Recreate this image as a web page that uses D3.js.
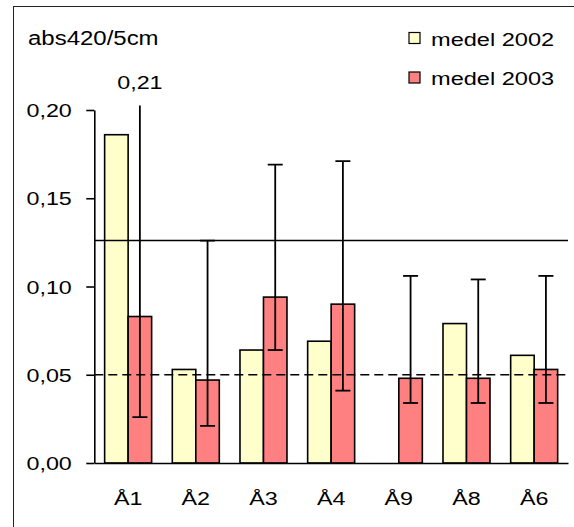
<!DOCTYPE html>
<html>
<head>
<meta charset="utf-8">
<script src="https://cdn.jsdelivr.net/npm/d3@7/dist/d3.min.js"></script>
<style>
  html, body { margin: 0; padding: 0; background: #fff; }
  svg { display: block; }
  text { font-family: "Liberation Sans", Arial, Helvetica, sans-serif; fill: #000; }
</style>
</head>
<body>
<svg id="chart" width="574" height="527"></svg>
<script>
// Sampling sites
const categories = ["Å1", "Å2", "Å3", "Å4", "Å9", "Å8", "Å6"];
// Series names
const seriesNames = ["medel 2002", "medel 2003"];
// Mean absorbance per site (null = no value)
const medel2002 = [0.186, 0.053, 0.064, 0.069, null, 0.079, 0.061];
const medel2003 = [0.083, 0.047, 0.094, 0.090, 0.048, 0.048, 0.053];
// Error bar extents for 2003 (min / max)
const min2003 = [0.026, 0.021, 0.064, 0.041, 0.034, 0.034, 0.034];
const max2003 = [0.210, 0.126, 0.169, 0.171, 0.106, 0.104, 0.106];
// Reference levels (solid / dashed)
const refSolid = 0.126;
const refDashed = 0.05;
// Axis ticks
const yTicks = [0, 0.05, 0.10, 0.15, 0.20];
const yLabel = "abs420/5cm";

const colors = ["#FFFFCC", "#FF8080"];
const stretch = 1.26;          // glyphs are drawn horizontally widened
const fs = 18.5;

const svg = d3.select("#chart");
const fmt = v => d3.format(".2f")(v).replace(".", ",");

const plotLeft = 94.3, plotRight = 568, plotTop = 110, plotBottom = 463;

const x = d3.scaleBand().domain(categories).range([plotLeft, plotRight]).paddingInner(0).paddingOuter(0);
const x1 = d3.scaleBand().domain(seriesNames).range([0, x.bandwidth()]).paddingInner(0).paddingOuter(0.44);
const y = d3.scaleLinear().domain([0, 0.20]).range([plotBottom, plotTop]);

// outer frame
svg.append("rect")
  .attr("x", 13.5).attr("y", 6.5).attr("width", 700).attr("height", 700)
  .attr("fill", "none").attr("stroke", "#222").attr("stroke-width", 1);

// plot clip: slightly above the top tick
svg.append("defs").append("clipPath").attr("id", "plotclip")
  .append("rect").attr("x", plotLeft).attr("y", plotTop - 4.5)
  .attr("width", plotRight - plotLeft).attr("height", plotBottom - plotTop + 4.5);

const plot = svg.append("g").attr("clip-path", "url(#plotclip)");

// bars
const series = [medel2002, medel2003];
series.forEach((vals, si) => {
  plot.append("g").selectAll("rect")
    .data(categories.map((c, i) => ({ c, v: vals[i] })).filter(d => d.v != null))
    .join("rect")
    .attr("x", d => x(d.c) + x1(seriesNames[si]))
    .attr("y", d => y(d.v))
    .attr("width", x1.bandwidth())
    .attr("height", d => y(0) - y(d.v))
    .attr("fill", colors[si])
    .attr("stroke", "#000")
    .attr("stroke-width", 1.6);
});

// reference lines
plot.append("line")
  .attr("x1", plotLeft).attr("x2", plotRight).attr("y1", y(refSolid)).attr("y2", y(refSolid))
  .attr("stroke", "#000").attr("stroke-width", 1.5);
plot.append("line")
  .attr("x1", plotLeft).attr("x2", plotRight).attr("y1", y(refDashed)).attr("y2", y(refDashed))
  .attr("stroke", "#000").attr("stroke-width", 1.6).attr("stroke-dasharray", "9,5");

// error bars on 2003 series
const errs = categories.map((c, i) => ({ c, lo: min2003[i], hi: max2003[i] }));
const cx = d => x(d.c) + x1(seriesNames[1]) + x1.bandwidth() / 2;
const capW = 7.5;
const eg = plot.append("g").attr("stroke", "#000").attr("stroke-width", 1.8);
eg.selectAll(".stem").data(errs).join("line")
  .attr("x1", cx).attr("x2", cx).attr("y1", d => y(d.lo)).attr("y2", d => y(d.hi));
eg.selectAll(".lo").data(errs).join("line")
  .attr("x1", d => cx(d) - capW).attr("x2", d => cx(d) + capW)
  .attr("y1", d => y(d.lo)).attr("y2", d => y(d.lo));
eg.selectAll(".hi").data(errs.filter(d => d.hi <= y.domain()[1])).join("line")
  .attr("x1", d => cx(d) - capW).attr("x2", d => cx(d) + capW)
  .attr("y1", d => y(d.hi)).attr("y2", d => y(d.hi));

// value label for error bars running past the axis maximum
svg.append("g").selectAll("text")
  .data(errs.filter(d => d.hi > y.domain()[1]))
  .join("text")
  .attr("transform", d => `translate(${cx(d)},89.3) scale(${stretch},1)`)
  .attr("text-anchor", "middle")
  .style("font-size", fs + "px")
  .text(d => fmt(d.hi));

// y axis
const yAxis = svg.append("g").attr("transform", `translate(${plotLeft},0)`)
  .call(d3.axisLeft(y).tickValues(yTicks).tickFormat(fmt).tickSize(8).tickSizeOuter(0));
yAxis.select(".domain").attr("stroke", "#000").attr("stroke-width", 1.6);
yAxis.selectAll(".tick line").attr("stroke", "#000").attr("stroke-width", 1.6);
yAxis.selectAll(".tick text")
  .attr("x", null).attr("dy", null)
  .attr("transform", `translate(-22.5,6.7) scale(${stretch},1)`)
  .attr("fill", "#000")
  .style("font-size", fs + "px")
  .style("font-family", "Liberation Sans, Arial, sans-serif");

// x axis
const xAxis = svg.append("g").attr("transform", `translate(0,${plotBottom})`)
  .call(d3.axisBottom(x).tickSize(0).tickSizeOuter(0));
xAxis.select(".domain").attr("stroke", "#000").attr("stroke-width", 1.6);
xAxis.selectAll(".tick text")
  .attr("y", null).attr("dy", null)
  .attr("transform", `translate(0,42) scale(${stretch},1)`)
  .attr("fill", "#000")
  .style("font-size", fs + "px")
  .style("font-family", "Liberation Sans, Arial, sans-serif");

// y axis title
svg.append("text")
  .attr("transform", `translate(28,45) scale(${stretch - 0.03},1)`)
  .style("font-size", "19.5px")
  .text(yLabel);

// legend
const legend = svg.append("g");
seriesNames.forEach((name, i) => {
  const g = legend.append("g").attr("transform", `translate(409,${32.5 + i * 39.5})`);
  g.append("rect").attr("width", 11).attr("height", 11)
    .attr("fill", colors[i]).attr("stroke", "#000").attr("stroke-width", 1.2);
  g.append("text")
    .attr("transform", `translate(22,13.3) scale(${stretch + 0.05},1)`)
    .style("font-size", "18px")
    .text(name);
});
</script>
</body>
</html>
